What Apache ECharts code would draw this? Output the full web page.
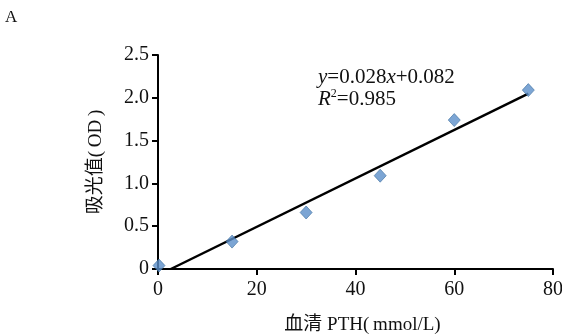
<!DOCTYPE html>
<html>
<head>
<meta charset="utf-8">
<script src="https://cdn.jsdelivr.net/npm/echarts@6/dist/echarts.min.js"></script>
<style>
  html, body { margin: 0; padding: 0; background: #fff; }
  #chart { width: 562px; height: 334px; }
</style>
</head>
<body>
<div id="chart"></div>
<script>
// measured points: serum PTH vs absorbance
const pthValues = [0.2, 15, 30, 45, 60, 75]
const odValues = [0.04, 0.32, 0.66, 1.09, 1.74, 2.09]
// fitted line as drawn in the figure (endpoints)
const fitX = [2.6, 75]
const fitY = [0, 2.05]
const xTicks = [0, 20, 40, 60, 80]
const yTicks = [0, 0.5, 1.0, 1.5, 2.0, 2.5]

const serif = '"Liberation Serif", "Noto Sans CJK SC", serif'
const chart = echarts.init(document.getElementById('chart'))

const option = {
  animation: false,
  grid: { left: 158, right: 9, top: 55, bottom: 65, outerBoundsMode: 'none' },
  xAxis: {
    type: 'value',
    min: xTicks[0],
    max: xTicks[xTicks.length - 1],
    interval: 20,
    name: '血清 PTH(\u2009mmol/L)',
    nameLocation: 'middle',
    nameGap: 47,
    nameTextStyle: { fontFamily: serif, fontSize: 19, color: '#111', padding: [0, 0, 0, 14] },
    axisLine: { lineStyle: { color: '#000', width: 2 } },
    axisTick: { show: true, length: 6, lineStyle: { color: '#000', width: 2 } },
    axisLabel: { fontFamily: serif, fontSize: 20, color: '#111', margin: 11 },
    splitLine: { show: false }
  },
  yAxis: {
    type: 'value',
    min: yTicks[0],
    max: yTicks[yTicks.length - 1],
    interval: 0.5,
    name: '吸光值(\u2009OD\u2009)',
    nameLocation: 'middle',
    nameGap: 52,
    nameRotate: 90,
    nameTextStyle: { fontFamily: serif, fontSize: 19, color: '#111' },
    axisLine: { show: true, lineStyle: { color: '#000', width: 2 } },
    axisTick: { show: true, length: 6, lineStyle: { color: '#000', width: 2 } },
    axisLabel: {
      fontFamily: serif, fontSize: 20, color: '#111', margin: 9,
      formatter: v => v === 0 ? '0' : v.toFixed(1)
    },
    splitLine: { show: false }
  },
  graphic: [
    {
      type: 'text', left: 5, top: 9,
      style: { text: 'A', font: '17px ' + serif, fill: '#111' }
    },
    {
      type: 'text', left: 318, top: 66,
      style: {
        text: '{i|y}=0.028{i|x}+0.082\n{i|R}{s|2}=0.985',
        font: '21px ' + serif, fill: '#111', lineHeight: 22,
        rich: {
          i: { fontFamily: serif, fontSize: 21, fontStyle: 'italic', fill: '#111' },
          s: { fontFamily: serif, fontSize: 12, verticalAlign: 'top', fill: '#111', padding: [0, 0, 10, 0] }
        }
      }
    }
  ],
  series: [
    {
      type: 'line',
      data: fitX.map((x, i) => [x, fitY[i]]),
      symbol: 'none',
      lineStyle: { color: '#000', width: 2.5 },
      z: 2
    },
    {
      type: 'scatter',
      data: pthValues.map((x, i) => [x, odValues[i]]),
      symbol: 'diamond',
      symbolSize: [12, 13],
      itemStyle: { color: '#5b8fc9', borderColor: '#3f6f9f', borderWidth: 0.8 },
      z: 3
    }
  ]
}

chart.setOption(option)
</script>
</body>
</html>
